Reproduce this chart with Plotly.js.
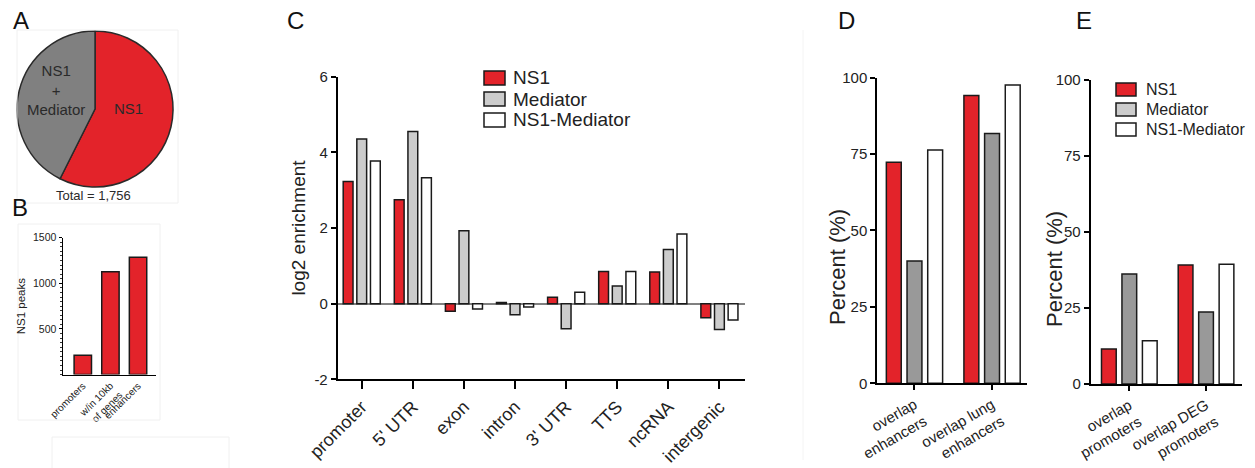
<!DOCTYPE html>
<html>
<head>
<meta charset="utf-8">
<script src="https://cdn.plot.ly/plotly-3.0.1.min.js"></script>
<style>
html,body{margin:0;padding:0;background:#fff;}
#chart{width:1255px;height:468px;}
</style>
</head>
<body>
<div id="chart"></div>
<script>
// ---- Panel A: pie ----
var pieLabels = ['NS1', 'NS1 + Mediator'];
var pieValues = [1008, 748];

// ---- Panel B ----
var bCats = ['promoters', 'w/in 10kb<br>of genes', 'enhancers'];
var bVals = [212, 1127, 1287];

// ---- Panel C ----
var cCats = ['promoter', "5' UTR", 'exon', 'intron', "3' UTR", 'TTS', 'ncRNA', 'intergenic'];
var cNS1 = [3.23, 2.75, -0.20, 0.03, 0.17, 0.85, 0.84, -0.37];
var cMed = [4.35, 4.55, 1.93, -0.29, -0.66, 0.47, 1.43, -0.68];
var cNSMed = [3.77, 3.33, -0.14, -0.09, 0.30, 0.85, 1.84, -0.43];
var cTickVals = [-2, 0, 2, 4, 6];
var cTickText = ['-2', '0', '2', '4', '6'];

// ---- Panel D ----
var dCats = ['overlap<br>enhancers', 'overlap lung<br>enhancers'];
var dNS1 = [72.3, 94.2];
var dMed = [40.0, 81.7];
var dNSMed = [76.3, 97.6];

// ---- Panel E ----
var eCats = ['overlap<br>promoters', 'overlap DEG<br>promoters'];
var eNS1 = [11.5, 39.1];
var eMed = [36.2, 23.7];
var eNSMed = [14.2, 39.4];

var seriesNames = ['NS1', 'Mediator', 'NS1-Mediator'];

var RED = '#e3232a';
var LGRAY = '#cccccc';
var DGRAY = '#999999';
var PGRAY = '#808080';
var EDGE = '#1a1a1a';
var FONT = 'Liberation Sans, Arial, sans-serif';
var legendColors = [RED, LGRAY, '#ffffff'];

function bar(x, y, color, xa, ya, extra) {
  var t = {type: 'bar', x: x, y: y, xaxis: xa, yaxis: ya,
    marker: {color: color, line: {color: EDGE, width: 1.5}},
    hoverinfo: 'x+y', showlegend: false};
  for (var k in extra) t[k] = extra[k];
  return t;
}

var data = [
  {type: 'pie', labels: pieLabels, values: pieValues, sort: false,
   direction: 'clockwise', rotation: 0,
   domain: {x: [0.01355, 0.1379], y: [0.6004, 0.9338]},
   marker: {colors: [RED, PGRAY], line: {color: '#2a2a2a', width: 1.5}},
   textinfo: 'none', showlegend: false},
  bar(bCats, bVals, RED, 'x', 'y', {width: 0.63, name: 'NS1 peaks'}),
  bar(cCats, cNS1, RED, 'x2', 'y2', {name: seriesNames[0]}),
  bar(cCats, cMed, LGRAY, 'x2', 'y2', {name: seriesNames[1]}),
  bar(cCats, cNSMed, '#ffffff', 'x2', 'y2', {name: seriesNames[2]}),
  bar(dCats, dNS1, RED, 'x3', 'y3', {name: seriesNames[0]}),
  bar(dCats, dMed, DGRAY, 'x3', 'y3', {name: seriesNames[1]}),
  bar(dCats, dNSMed, '#ffffff', 'x3', 'y3', {name: seriesNames[2]}),
  bar(eCats, eNS1, RED, 'x4', 'y4', {name: seriesNames[0]}),
  bar(eCats, eMed, DGRAY, 'x4', 'y4', {name: seriesNames[1]}),
  bar(eCats, eNSMed, '#ffffff', 'x4', 'y4', {name: seriesNames[2]})
];

function axBase(extra) {
  var a = {showgrid: false, zeroline: false, showline: true, linecolor: '#000',
    linewidth: 2, ticks: 'outside', tickcolor: '#000', tickwidth: 2,
    tickfont: {family: FONT, size: 15, color: '#222'}, fixedrange: true};
  for (var k in extra) a[k] = extra[k];
  return a;
}

function px(x) { return x / 1255; }
function py(y) { return 1 - y / 468; }

var shapes = [
  {type: 'rect', xref: 'paper', yref: 'paper', x0: px(17), x1: px(178), y0: py(203), y1: py(30), line: {color: '#f0f0f0', width: 1}},
  {type: 'rect', xref: 'paper', yref: 'paper', x0: px(18), x1: px(160), y0: py(420), y1: py(224), line: {color: '#f0f0f0', width: 1}},
  {type: 'rect', xref: 'paper', yref: 'paper', x0: px(52), x1: px(229), y0: -0.01, y1: py(437), line: {color: '#f0f0f0', width: 1}},
  {type: 'line', xref: 'paper', yref: 'paper', x0: px(803), x1: px(803), y0: py(460), y1: py(30), line: {color: '#f4f4f4', width: 1}}
];

var annotations = [
  {text: 'A', x: 21, y: 21},
  {text: 'B', x: 20, y: 207},
  {text: 'C', x: 295, y: 21},
  {text: 'D', x: 846, y: 21},
  {text: 'E', x: 1084, y: 21}
].map(function (a) {
  return {text: a.text, x: px(a.x), y: py(a.y), xref: 'paper', yref: 'paper',
    xanchor: 'center', yanchor: 'middle', showarrow: false,
    font: {family: FONT, size: 24, color: '#111'}};
});

annotations.push(
  {text: 'NS1<br>+<br>Mediator', x: px(56), y: py(90), xref: 'paper', yref: 'paper',
   xanchor: 'center', yanchor: 'middle', showarrow: false, align: 'center',
   font: {family: FONT, size: 15, color: '#2a2a2a'}},
  {text: 'NS1', x: px(128), y: py(108), xref: 'paper', yref: 'paper',
   xanchor: 'center', yanchor: 'middle', showarrow: false,
   font: {family: FONT, size: 15, color: '#2a2a2a'}},
  {text: 'Total = 1,756', x: px(93), y: py(195), xref: 'paper', yref: 'paper',
   xanchor: 'center', yanchor: 'middle', showarrow: false,
   font: {family: FONT, size: 13, color: '#2a2a2a'}},
  {text: 'Percent (%)', x: px(837), y: py(267), xref: 'paper', yref: 'paper',
   xanchor: 'center', yanchor: 'middle', showarrow: false, textangle: -90,
   font: {family: FONT, size: 22, color: '#222'}},
  {text: 'Percent (%)', x: px(1054), y: py(269), xref: 'paper', yref: 'paper',
   xanchor: 'center', yanchor: 'middle', showarrow: false, textangle: -90,
   font: {family: FONT, size: 22, color: '#222'}}
);

// legends (panel C and panel E)
function addLegend(x0, w, h, yRows, textX, fontSize) {
  for (var i = 0; i < seriesNames.length; i++) {
    shapes.push({type: 'rect', xref: 'paper', yref: 'paper',
      x0: px(x0), x1: px(x0 + w), y0: py(yRows[i] + h / 2), y1: py(yRows[i] - h / 2),
      fillcolor: legendColors[i], line: {color: EDGE, width: 1.5}});
    annotations.push({text: seriesNames[i], x: px(textX), y: py(yRows[i]),
      xref: 'paper', yref: 'paper', xanchor: 'left', yanchor: 'middle',
      showarrow: false, font: {family: FONT, size: fontSize, color: '#222'}});
  }
}
addLegend(484, 21, 14, [78, 99, 120], 511, 19);
addLegend(1116, 20, 13, [89.5, 109.5, 129.5], 1144, 16);

var layout = {
  width: 1255, height: 468,
  margin: {l: 0, r: 0, t: 0, b: 0},
  paper_bgcolor: '#fff', plot_bgcolor: 'rgba(0,0,0,0)',
  font: {family: FONT, color: '#222'},
  showlegend: false,
  barmode: 'group', bargap: 0.2, bargroupgap: 0.28,
  // B
  xaxis: axBase({domain: [0.0502, 0.1243], anchor: 'y', type: 'category',
    range: [-0.717, 2.65], linewidth: 1.5, ticks: '', tickangle: -45,
    tickfont: {family: FONT, size: 10, color: '#222'}}),
  yaxis: axBase({domain: [0.1996, 0.4921], anchor: 'x', range: [0, 1500],
    tickvals: [500, 1000, 1500], linewidth: 1.5, ticklen: 3, tickwidth: 1,
    minor: {tickmode: 'linear', tick0: 0, dtick: 50, ticks: 'outside', ticklen: 2, tickwidth: 1, tickcolor: '#333'},
    tickfont: {family: FONT, size: 10.5, color: '#222'},
    title: {text: 'NS1 peaks', font: {family: FONT, size: 11.5, color: '#222'}, standoff: 5}}),
  // C
  xaxis2: axBase({domain: [0.2691, 0.5936], anchor: 'y2', type: 'category',
    range: [-0.47, 7.5], ticklen: 8, tickangle: -45,
    tickfont: {family: FONT, size: 18, color: '#222'}}),
  yaxis2: axBase({domain: [0.1895, 0.8361], anchor: 'x2', range: [-2, 6],
    tickvals: cTickVals, ticktext: cTickText, ticklen: 5,
    zeroline: true, zerolinecolor: '#808080', zerolinewidth: 2,
    title: {text: 'log2 enrichment', font: {family: FONT, size: 19, color: '#222'}, standoff: 4}}),
  // D
  xaxis3: axBase({domain: [0.6990, 0.8186], anchor: 'y3', type: 'category',
    range: [-0.48, 1.455], ticklen: 5, tickangle: -30,
    tickfont: {family: FONT, size: 15, color: '#222'}}),
  yaxis3: axBase({domain: [0.1810, 0.8340], anchor: 'x3', range: [0, 100],
    tickvals: [0, 25, 50, 75, 100], ticklen: 5}),
  // E
  xaxis4: axBase({domain: [0.8691, 0.9899], anchor: 'y4', type: 'category',
    range: [-0.503, 1.473], ticklen: 5, tickangle: -30,
    tickfont: {family: FONT, size: 15, color: '#222'}}),
  yaxis4: axBase({domain: [0.1795, 0.8291], anchor: 'x4', range: [0, 100],
    tickvals: [0, 25, 50, 75, 100], ticklen: 5}),
  shapes: shapes,
  annotations: annotations
};

Plotly.newPlot('chart', data, layout, {staticPlot: true, displayModeBar: false});
</script>
</body>
</html>
